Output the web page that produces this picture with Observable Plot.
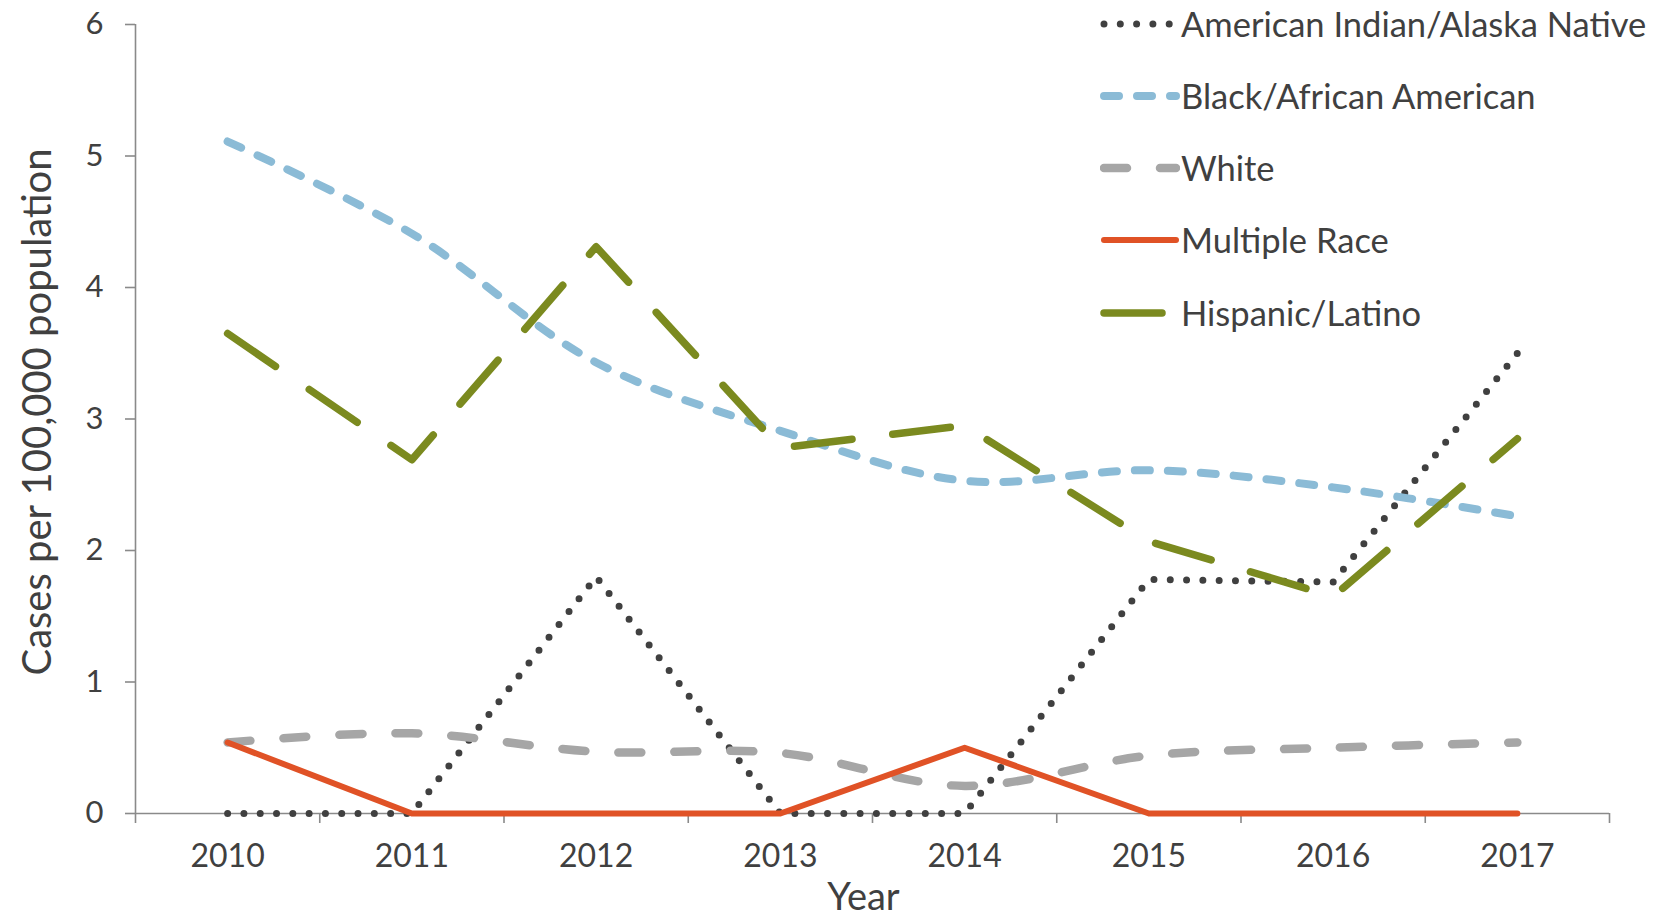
<!DOCTYPE html>
<html><head><meta charset="utf-8">
<script src="https://cdn.jsdelivr.net/npm/d3@7"></script>
<script src="https://cdn.jsdelivr.net/npm/@observablehq/plot@0.6"></script>
<style>
body{margin:0;background:#fff;font-family:Lato,sans-serif;}
#wrap{position:relative;width:1675px;height:918px;overflow:hidden;}
#chart svg{display:block;}
#legend{position:absolute;left:0;top:0;}
.row{position:absolute;display:flex;align-items:center;white-space:nowrap;font-size:34.5px;line-height:40px;height:40px;color:#404040;}
.row svg{display:block;margin-right:1px;}
</style></head><body>
<div id="wrap"><div id="chart"></div><div id="legend"></div></div>
<script>
// ---- data ----
const years = [2010, 2011, 2012, 2013, 2014, 2015, 2016, 2017];
const seriesNames = ["American Indian/Alaska Native", "Black/African American", "White", "Multiple Race", "Hispanic/Latino"];
const aian     = [0, 0, 1.80, 0, 0, 1.78, 1.76, 3.50];
const black    = [5.11, 4.41, 3.43, 2.91, 2.53, 2.61, 2.48, 2.26];
const white    = [0.54, 0.61, 0.47, 0.46, 0.21, 0.44, 0.50, 0.54];
const multiple = [0.54, 0, 0, 0, 0.50, 0, 0, 0];
const hispanic = [3.65, 2.69, 4.31, 2.78, 2.95, 2.07, 1.65, 2.85];
const yTicks = [0, 1, 2, 3, 4, 5, 6];
const xTitle = "Year";
const yTitle = "Cases per 100,000 population";

// ---- styles ----
const textColor = "#404040", axisColor = "#8a8a8a";
const seriesValues = [aian, black, white, multiple, hispanic];
const styles = [
  {stroke: "#404040", width: 7, dash: "0,16.3", curve: "linear"},
  {stroke: "#8BBBD6", width: 8, dash: "15,18", curve: "catmull-rom"},
  {stroke: "#A6A6A6", width: 8.5, dash: "23,33", curve: "catmull-rom"},
  {stroke: "#E05226", width: 6, dash: null, curve: "linear"},
  {stroke: "#7B8A1F", width: 7.5, dash: "58,41", curve: "linear"}
];

const boundaries = [years[0] - 0.5, ...years.map(y => y + 0.5)];

const lineMarks = seriesNames.map((name, k) => {
  const rows = years.map((yr, i) => ({year: yr, value: seriesValues[k][i], series: name}));
  const s = styles[k];
  return Plot.line(rows, {
    x: "year", y: "value", stroke: s.stroke, strokeWidth: s.width,
    strokeDasharray: s.dash || undefined, strokeLinecap: "round", strokeLinejoin: "round",
    curve: s.curve
  });
});

const chart = Plot.plot({
  width: 1675, height: 918,
  marginLeft: 135, marginRight: 66, marginTop: 24, marginBottom: 105,
  x: {type: "linear", domain: [boundaries[0], boundaries[boundaries.length - 1]], axis: null},
  y: {domain: [yTicks[0], yTicks[yTicks.length - 1]], axis: null},
  style: {fontFamily: "Lato, sans-serif", color: textColor, background: "#fff"},
  marks: [
    Plot.ruleX([boundaries[0]], {stroke: axisColor, strokeWidth: 1.6}),
    Plot.ruleY([yTicks[0]], {stroke: axisColor, strokeWidth: 1.6}),
    Plot.axisY(yTicks, {tickSize: 10, tickPadding: 22, fontSize: 31, stroke: axisColor, fill: textColor, label: null, strokeWidth: 1.6, tickFormat: d3.format("d")}),
    Plot.axisX(boundaries, {tickSize: 10, tickFormat: () => "", stroke: axisColor, label: null, strokeWidth: 1.6}),
    Plot.axisX(years, {tickSize: 0, tickPadding: 31, fontSize: 32, fill: textColor, tickFormat: d3.format("d"), label: null}),
    Plot.text([xTitle], {frameAnchor: "bottom", textAnchor: "middle", lineAnchor: "middle", dx: -9, dy: 84, fontSize: 38, fill: textColor}),
    Plot.text([yTitle], {frameAnchor: "left", textAnchor: "middle", lineAnchor: "middle", rotate: -90, dx: -97, dy: -7, fontSize: 40, fill: textColor}),
    ...lineMarks
  ]
});
document.getElementById("chart").appendChild(chart);

// ---- legend ----
const legend = d3.select("#legend");
const rowCenters = [23.5, 96, 168, 240, 313];
seriesNames.forEach((name, k) => {
  const s = styles[k];
  const row = legend.append("div").attr("class", "row")
    .style("left", "1100px").style("top", (rowCenters[k] - 20) + "px");
  const svg = row.append("svg").attr("width", 80).attr("height", 20);
  svg.append("line").attr("x1", 4).attr("x2", 76).attr("y1", 10).attr("y2", 10)
    .attr("stroke", s.stroke).attr("stroke-width", s.width)
    .attr("stroke-linecap", "round")
    .attr("stroke-dasharray", s.dash);
  row.append("span").text(name);
});
</script>
</body></html>
